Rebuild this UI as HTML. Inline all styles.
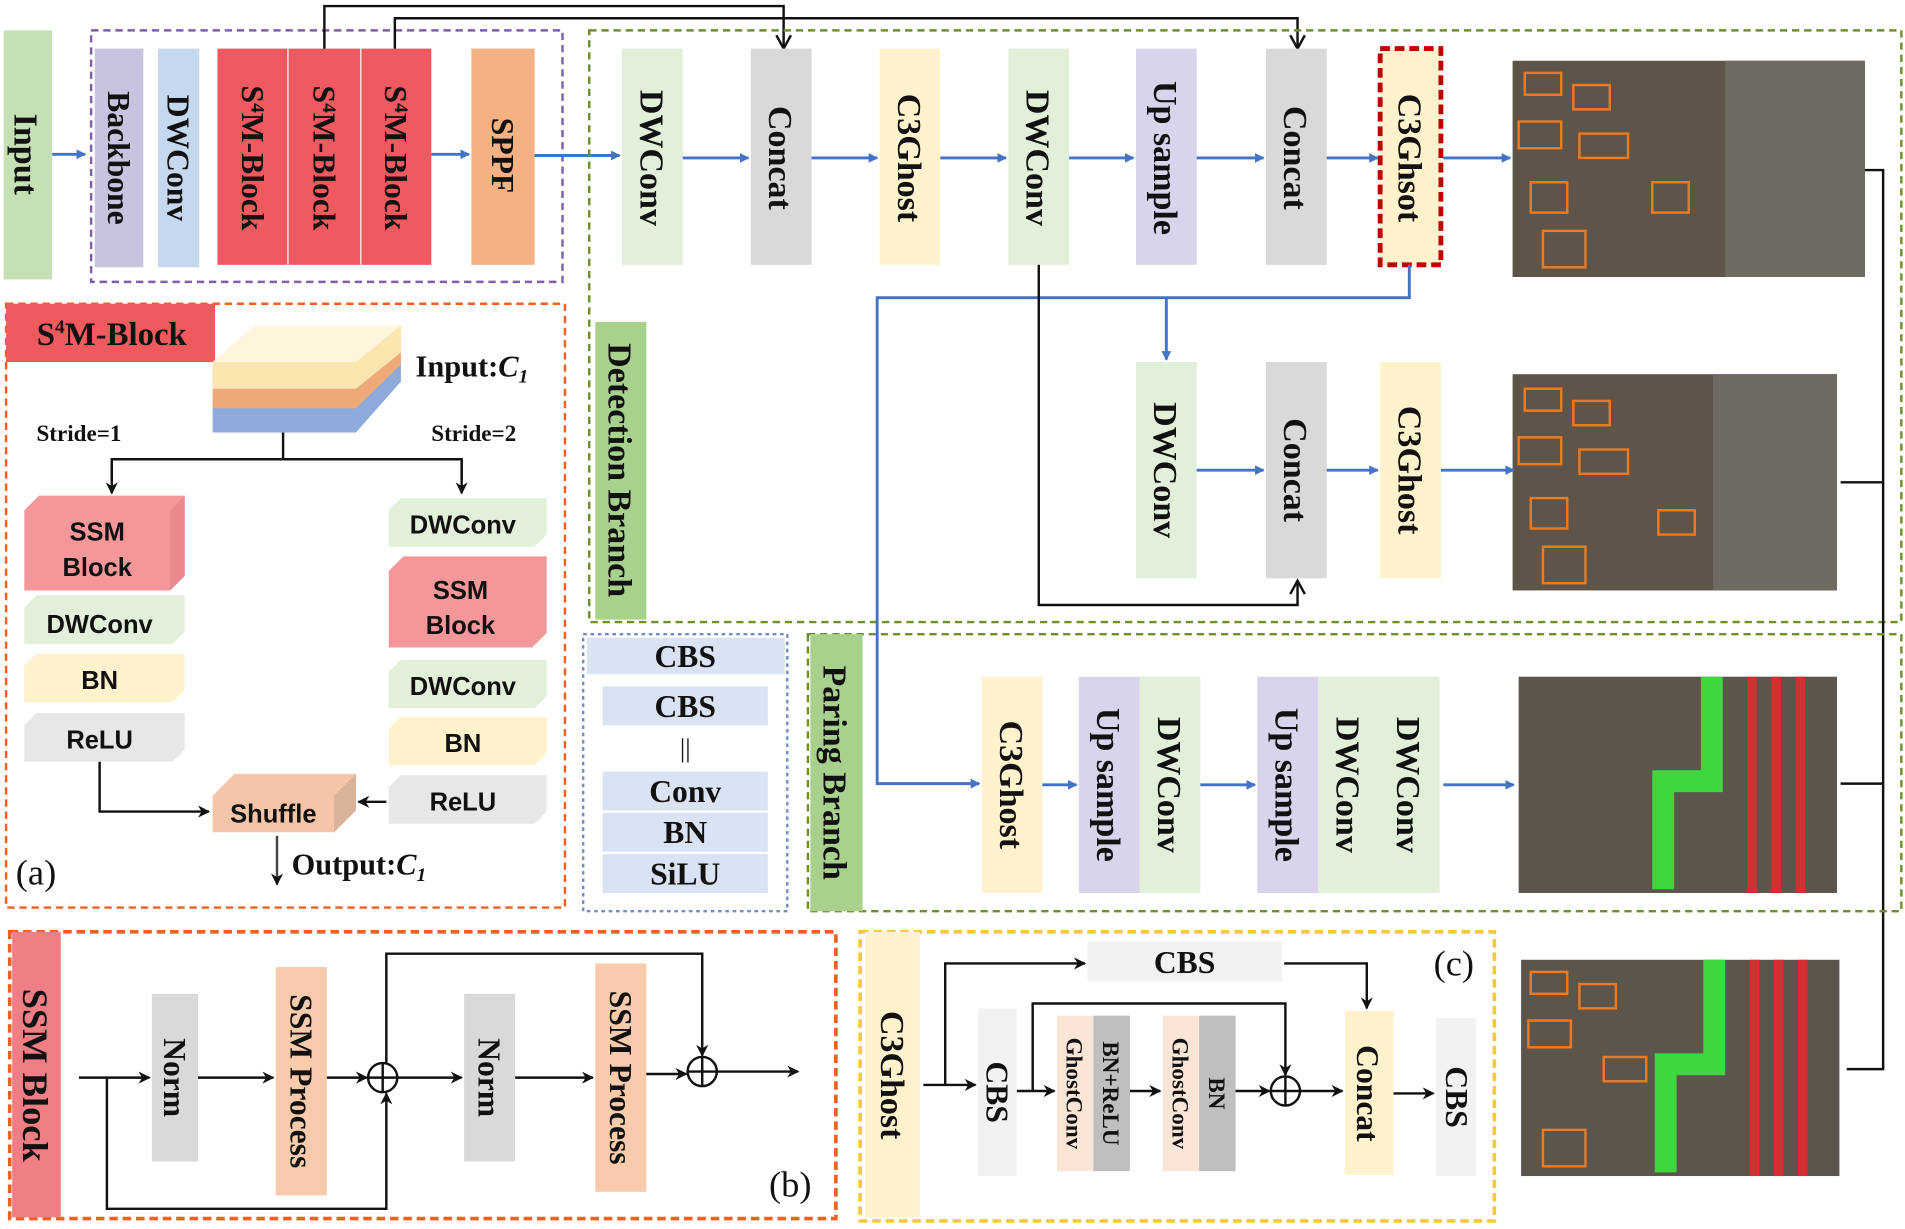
<!DOCTYPE html>
<html><head><meta charset="utf-8"><style>
html,body{margin:0;padding:0;background:#fff;width:1905px;height:1229px;overflow:hidden}
svg{display:block}
.s{font-family:"Liberation Serif",serif;font-weight:bold;fill:#111}
.n{font-family:"Liberation Serif",serif;font-weight:normal;fill:#111}
.a{font-family:"Liberation Sans",sans-serif;font-weight:bold;fill:#111}
</style></head><body>
<svg width="1905" height="1229" viewBox="0 0 1568 1011.6" preserveAspectRatio="none" xmlns="http://www.w3.org/2000/svg">
<defs>
<marker id="bl" markerWidth="8" markerHeight="8" refX="7" refY="4" orient="auto" markerUnits="userSpaceOnUse"><path d="M0,0 L8,4 L0,8 Z" fill="#4472c4"/></marker>
<marker id="bk" markerWidth="10" markerHeight="10" refX="9" refY="5" orient="auto" markerUnits="userSpaceOnUse"><path d="M0,0 L10,5 L0,10 L3,5 Z" fill="#111"/></marker>
<marker id="bo" markerWidth="14" markerHeight="14" refX="12" refY="7" orient="auto" markerUnits="userSpaceOnUse"><path d="M1,1 L12,7 L1,13" fill="none" stroke="#111" stroke-width="2"/></marker>
</defs>
<g>
<!-- top row -->
<rect x="3" y="25" width="40" height="205" fill="#c5e0b4"/>
<text class="s" font-size="28" transform="translate(12,127) rotate(90)" text-anchor="middle">Input</text>
<line x1="43" y1="127" x2="70" y2="127" stroke="#4472c4" stroke-width="2.4" marker-end="url(#bl)"/>
<rect x="75" y="25" width="388" height="207" fill="none" stroke="#7f5fa8" stroke-width="2" stroke-dasharray="6,4"/>
<rect x="78" y="40" width="40" height="180" fill="#c9c3e0"/>
<text class="s" font-size="26" transform="translate(89,130) rotate(90)" text-anchor="middle">Backbone</text>
<rect x="130" y="40" width="34" height="180" fill="#c5d8ee"/>
<text class="s" font-size="26" transform="translate(138,130) rotate(90)" text-anchor="middle">DWConv</text>
<rect x="179" y="40" width="176" height="178" fill="#ee5a5f"/>
<line x1="237" y1="40" x2="237" y2="218" stroke="#fff" stroke-width="1"/>
<line x1="297" y1="40" x2="297" y2="218" stroke="#fff" stroke-width="1"/>
<text class="s" font-size="26" transform="translate(199,130) rotate(90)" text-anchor="middle">S<tspan font-size="16" dy="-8">4</tspan><tspan dy="8">M-Block</tspan></text>
<text class="s" font-size="26" transform="translate(258,130) rotate(90)" text-anchor="middle">S<tspan font-size="16" dy="-8">4</tspan><tspan dy="8">M-Block</tspan></text>
<text class="s" font-size="26" transform="translate(317,130) rotate(90)" text-anchor="middle">S<tspan font-size="16" dy="-8">4</tspan><tspan dy="8">M-Block</tspan></text>
<line x1="355" y1="127" x2="386" y2="127" stroke="#4472c4" stroke-width="2.4" marker-end="url(#bl)"/>
<rect x="388" y="40" width="52" height="178" fill="#f4b183"/>
<text class="s" font-size="26" transform="translate(405,128) rotate(90)" text-anchor="middle">SPPF</text>
<line x1="440" y1="128" x2="510" y2="128" stroke="#4472c4" stroke-width="2.4" marker-end="url(#bl)"/>
<polyline points="267,40 267,5 645,5 645,40" fill="none" stroke="#111" stroke-width="2" marker-end="url(#bo)"/>
<polyline points="325,40 325,15 1068,15 1068,40" fill="none" stroke="#111" stroke-width="2" marker-end="url(#bo)"/>
<rect x="485" y="25" width="1080" height="487" fill="none" stroke="#6f8f2f" stroke-width="2" stroke-dasharray="6,4"/>
<rect x="512" y="40" width="50" height="178" fill="#e2f0d9"/>
<text class="s" font-size="28" transform="translate(527,130) rotate(90)" text-anchor="middle">DWConv</text>
<rect x="618" y="40" width="50" height="178" fill="#d9d9d9"/>
<text class="s" font-size="28" transform="translate(633,130) rotate(90)" text-anchor="middle">Concat</text>
<rect x="724" y="40" width="50" height="178" fill="#fff2cc"/>
<text class="s" font-size="28" transform="translate(739,130) rotate(90)" text-anchor="middle">C3Ghost</text>
<rect x="830" y="40" width="50" height="178" fill="#e2f0d9"/>
<text class="s" font-size="28" transform="translate(845,130) rotate(90)" text-anchor="middle">DWConv</text>
<rect x="935" y="40" width="50" height="178" fill="#d9d3ec"/>
<text class="s" font-size="28" transform="translate(950,130) rotate(90)" text-anchor="middle">Up sample</text>
<rect x="1042" y="40" width="50" height="178" fill="#d9d9d9"/>
<text class="s" font-size="28" transform="translate(1057,130) rotate(90)" text-anchor="middle">Concat</text>
<rect x="1136" y="40" width="50" height="178" fill="#fff2cc" stroke="#c00000" stroke-width="4" stroke-dasharray="8,4"/>
<text class="s" font-size="28" transform="translate(1151,130) rotate(90)" text-anchor="middle">C3Ghsot</text>
<g stroke="#4472c4" stroke-width="2.4" marker-end="url(#bl)">
<line x1="562" y1="130" x2="616" y2="130"/><line x1="668" y1="130" x2="722" y2="130"/>
<line x1="774" y1="130" x2="828" y2="130"/><line x1="880" y1="130" x2="933" y2="130"/>
<line x1="985" y1="130" x2="1040" y2="130"/><line x1="1092" y1="130" x2="1134" y2="130"/>
<line x1="1188" y1="130" x2="1243" y2="130"/>
</g>
<!-- images -->
<g>
<rect x="1245" y="50" width="290" height="178" fill="#5e5548"/>
<rect x="1420" y="50" width="115" height="178" fill="#6e6a62"/>
<rect x="1245" y="308" width="267" height="178" fill="#5e5548"/>
<rect x="1410" y="308" width="102" height="178" fill="#6e6a62"/>
<rect x="1250" y="557" width="262" height="178" fill="#5b554c"/>
<rect x="1252" y="790" width="262" height="178" fill="#5b554c"/>
<path d="M1400,557 h18 v95 h-40 v80 h-18 v-98 h40 z" fill="#3ed83e"/>
<path d="M1402,790 h18 v95 h-40 v80 h-18 v-98 h40 z" fill="#3ed83e"/>
<g fill="#d03030"><rect x="1438" y="557" width="8" height="178"/><rect x="1458" y="557" width="8" height="178"/><rect x="1478" y="557" width="8" height="178"/><rect x="1440" y="790" width="8" height="178"/><rect x="1460" y="790" width="8" height="178"/><rect x="1480" y="790" width="8" height="178"/></g>
<g fill="none" stroke="#f07a20" stroke-width="2">
<rect x="1255" y="60" width="30" height="18"/><rect x="1295" y="70" width="30" height="20"/><rect x="1250" y="100" width="35" height="22"/><rect x="1300" y="110" width="40" height="20"/><rect x="1260" y="150" width="30" height="25"/><rect x="1270" y="190" width="35" height="30"/><rect x="1360" y="150" width="30" height="25"/>
<rect x="1255" y="320" width="30" height="18"/><rect x="1295" y="330" width="30" height="20"/><rect x="1250" y="360" width="35" height="22"/><rect x="1300" y="370" width="40" height="20"/><rect x="1260" y="410" width="30" height="25"/><rect x="1270" y="450" width="35" height="30"/><rect x="1365" y="420" width="30" height="20"/>
<rect x="1260" y="800" width="30" height="18"/><rect x="1300" y="810" width="30" height="20"/><rect x="1258" y="840" width="35" height="22"/><rect x="1320" y="870" width="35" height="20"/><rect x="1270" y="930" width="35" height="30"/>
</g>
</g>
<polyline points="1535,140 1550,140 1550,880 1520,880" fill="none" stroke="#111" stroke-width="2"/>
<line x1="1515" y1="397" x2="1550" y2="397" stroke="#111" stroke-width="2"/>
<line x1="1515" y1="645" x2="1550" y2="645" stroke="#111" stroke-width="2"/>
<polyline points="1160,218 1160,245 722,245 722,645 806,645" fill="none" stroke="#4472c4" stroke-width="2.4" marker-end="url(#bl)"/>
<polyline points="960,245 960,296" fill="none" stroke="#4472c4" stroke-width="2.4" marker-end="url(#bl)"/>
<rect x="935" y="298" width="50" height="178" fill="#e2f0d9"/>
<text class="s" font-size="28" transform="translate(950,387) rotate(90)" text-anchor="middle">DWConv</text>
<rect x="1042" y="298" width="50" height="178" fill="#d9d9d9"/>
<text class="s" font-size="28" transform="translate(1057,387) rotate(90)" text-anchor="middle">Concat</text>
<rect x="1136" y="298" width="50" height="178" fill="#fff2cc"/>
<text class="s" font-size="28" transform="translate(1151,387) rotate(90)" text-anchor="middle">C3Ghost</text>
<g stroke="#4472c4" stroke-width="2.4" marker-end="url(#bl)">
<line x1="985" y1="387" x2="1040" y2="387"/><line x1="1092" y1="387" x2="1134" y2="387"/><line x1="1186" y1="387" x2="1246" y2="387"/>
</g>
<polyline points="855,218 855,498 1068,498 1068,478" fill="none" stroke="#111" stroke-width="2" marker-end="url(#bo)"/>
<rect x="490" y="265" width="42" height="245" fill="#a9d18e"/>
<text class="s" font-size="28" transform="translate(501,387) rotate(90)" text-anchor="middle">Detection Branch</text>
<rect x="665" y="522" width="900" height="228" fill="none" stroke="#6f8f2f" stroke-width="2" stroke-dasharray="6,4"/>
<rect x="667" y="522" width="43" height="228" fill="#a9d18e"/>
<text class="s" font-size="28" transform="translate(678,636) rotate(90)" text-anchor="middle">Paring Branch</text>
<rect x="808" y="557" width="50" height="178" fill="#fff2cc"/>
<text class="s" font-size="28" transform="translate(823,646) rotate(90)" text-anchor="middle">C3Ghost</text>
<rect x="888" y="557" width="50" height="178" fill="#d9d3ec"/>
<text class="s" font-size="28" transform="translate(903,646) rotate(90)" text-anchor="middle">Up sample</text>
<rect x="938" y="557" width="50" height="178" fill="#e2f0d9"/>
<text class="s" font-size="28" transform="translate(953,646) rotate(90)" text-anchor="middle">DWConv</text>
<rect x="1035" y="557" width="50" height="178" fill="#d9d3ec"/>
<text class="s" font-size="28" transform="translate(1050,646) rotate(90)" text-anchor="middle">Up sample</text>
<rect x="1085" y="557" width="100" height="178" fill="#e2f0d9"/>
<text class="s" font-size="28" transform="translate(1100,646) rotate(90)" text-anchor="middle">DWConv</text>
<text class="s" font-size="28" transform="translate(1150,646) rotate(90)" text-anchor="middle">DWConv</text>
<g stroke="#4472c4" stroke-width="2.4" marker-end="url(#bl)">
<line x1="858" y1="646" x2="886" y2="646"/><line x1="988" y1="646" x2="1033" y2="646"/><line x1="1188" y1="646" x2="1246" y2="646"/>
</g>
<rect x="480" y="522" width="168" height="228" fill="none" stroke="#6f8fc8" stroke-width="2" stroke-dasharray="3,3"/>
<rect x="483" y="525" width="163" height="30" fill="#dae3f3"/>
<text class="s" font-size="26" x="564" y="549" text-anchor="middle">CBS</text>
<rect x="496" y="565" width="136" height="32" fill="#dae3f3"/>
<text class="s" font-size="26" x="564" y="590" text-anchor="middle">CBS</text>
<text class="n" font-size="22" x="564" y="623" text-anchor="middle">||</text>
<rect x="496" y="635" width="136" height="32" fill="#dae3f3"/>
<text class="s" font-size="26" x="564" y="660" text-anchor="middle">Conv</text>
<rect x="496" y="669" width="136" height="32" fill="#dae3f3"/>
<text class="s" font-size="26" x="564" y="694" text-anchor="middle">BN</text>
<rect x="496" y="703" width="136" height="32" fill="#dae3f3"/>
<text class="s" font-size="26" x="564" y="728" text-anchor="middle">SiLU</text>
<!-- panel a -->
<rect x="5" y="250" width="460" height="497" fill="none" stroke="#f06020" stroke-width="2" stroke-dasharray="6,4"/>
<rect x="5" y="250" width="172" height="48" fill="#ef5a5f"/>
<text class="s" font-size="27" x="92" y="284" text-anchor="middle">S<tspan font-size="16" dy="-10">4</tspan><tspan dy="10">M-Block</tspan></text>
<polygon points="175,330 293,330 330,298 330,314 293,356 175,356" fill="#8eaadb"/>
<polygon points="175,305 293,305 330,275 330,300 293,336 175,336" fill="#eea978"/>
<polygon points="175,298 210,268 330,268 330,290 293,320 175,320" fill="#fbe6b0"/>
<polygon points="175,298 210,268 330,268 293,298" fill="#fff4dc"/>
<text class="s" font-size="25" x="342" y="310">Input:<tspan font-style="italic">C<tspan font-size="16" dy="5">1</tspan></tspan></text>
<text class="s" font-size="19" x="30" y="363">Stride=1</text>
<text class="s" font-size="19" x="355" y="363">Stride=2</text>
<polyline points="233,356 233,378" fill="none" stroke="#111" stroke-width="2"/>
<polyline points="92,395 92,378 380,378 380,395" fill="none" stroke="#111" stroke-width="2"/>
<polyline points="92,380 92,406" stroke="#111" stroke-width="2" marker-end="url(#bk)"/>
<polyline points="380,380 380,406" stroke="#111" stroke-width="2" marker-end="url(#bk)"/>
<g>
<polygon points="20,420 32,408 152,408 152,474 140,486 20,486" fill="#f4979b"/><polygon points="140,420 152,408 152,474 140,486" fill="#e8898e"/>
<text class="a" font-size="21" x="80" y="445" text-anchor="middle">SSM</text><text class="a" font-size="21" x="80" y="474" text-anchor="middle">Block</text>
<polygon points="20,500 30,490 152,490 152,520 142,530 20,530" fill="#e2f0d9"/>
<text class="a" font-size="21" x="82" y="521" text-anchor="middle">DWConv</text>
<polygon points="20,548 30,538 152,538 152,568 142,578 20,578" fill="#fff2cc"/>
<text class="a" font-size="21" x="82" y="567" text-anchor="middle">BN</text>
<polygon points="20,597 30,587 152,587 152,617 142,627 20,627" fill="#e7e7e7"/>
<text class="a" font-size="21" x="82" y="616" text-anchor="middle">ReLU</text>
<polygon points="320,420 330,410 450,410 450,440 440,450 320,450" fill="#e2f0d9"/>
<text class="a" font-size="21" x="381" y="439" text-anchor="middle">DWConv</text>
<polygon points="320,470 332,458 450,458 450,521 438,533 320,533" fill="#f4979b"/>
<text class="a" font-size="21" x="379" y="493" text-anchor="middle">SSM</text><text class="a" font-size="21" x="379" y="522" text-anchor="middle">Block</text>
<polygon points="320,553 330,543 450,543 450,573 440,583 320,583" fill="#e2f0d9"/>
<text class="a" font-size="21" x="381" y="572" text-anchor="middle">DWConv</text>
<polygon points="320,600 330,590 450,590 450,620 440,630 320,630" fill="#fff2cc"/>
<text class="a" font-size="21" x="381" y="619" text-anchor="middle">BN</text>
<polygon points="320,648 330,638 450,638 450,668 440,678 320,678" fill="#e7e7e7"/>
<text class="a" font-size="21" x="381" y="667" text-anchor="middle">ReLU</text>
<polygon points="175,655 193,637 293,637 293,667 275,685 175,685" fill="#f4c5a6"/><polygon points="275,655 293,637 293,667 275,685" fill="#d9b29a"/>
<text class="a" font-size="21" x="225" y="677" text-anchor="middle">Shuffle</text>
</g>
<polyline points="82,627 82,668 172,668" fill="none" stroke="#111" stroke-width="2" marker-end="url(#bk)"/>
<line x1="318" y1="660" x2="295" y2="660" stroke="#111" stroke-width="2" marker-end="url(#bk)"/>
<line x1="228" y1="688" x2="228" y2="728" stroke="#444" stroke-width="2" marker-end="url(#bk)"/>
<text class="s" font-size="25" x="240" y="720">Output:<tspan font-style="italic">C<tspan font-size="16" dy="5">1</tspan></tspan></text>
<text class="n" font-size="30" x="13" y="728">(a)</text>
<!-- panel b -->
<rect x="8" y="767" width="680" height="236" fill="none" stroke="#f06020" stroke-width="3" stroke-dasharray="7,4"/>
<rect x="10" y="767" width="40" height="235" fill="#ef7f85"/>
<text class="s" font-size="30" transform="translate(19,885) rotate(90)" text-anchor="middle">SSM Block</text>
<rect x="125" y="818" width="38" height="138" fill="#d9d9d9"/>
<text class="s" font-size="26" transform="translate(135,887) rotate(90)" text-anchor="middle">Norm</text>
<rect x="227" y="796" width="42" height="188" fill="#f8cbad"/>
<text class="s" font-size="26" transform="translate(239,890) rotate(90)" text-anchor="middle">SSM Process</text>
<rect x="382" y="818" width="42" height="138" fill="#d9d9d9"/>
<text class="s" font-size="26" transform="translate(394,887) rotate(90)" text-anchor="middle">Norm</text>
<rect x="490" y="793" width="42" height="188" fill="#f8cbad"/>
<text class="s" font-size="26" transform="translate(502,887) rotate(90)" text-anchor="middle">SSM Process</text>
<g fill="none" stroke="#111" stroke-width="2">
<circle cx="315" cy="887" r="12"/><line x1="303" y1="887" x2="327" y2="887"/><line x1="315" y1="875" x2="315" y2="899"/>
<circle cx="578" cy="882" r="12"/><line x1="566" y1="882" x2="590" y2="882"/><line x1="578" y1="870" x2="578" y2="894"/>
<line x1="65" y1="887" x2="123" y2="887" marker-end="url(#bk)"/>
<line x1="163" y1="887" x2="225" y2="887" marker-end="url(#bk)"/>
<line x1="269" y1="887" x2="302" y2="887" marker-end="url(#bk)"/>
<line x1="327" y1="887" x2="380" y2="887" marker-end="url(#bk)"/>
<line x1="424" y1="887" x2="488" y2="887" marker-end="url(#bk)"/>
<line x1="532" y1="884" x2="565" y2="884" marker-end="url(#bk)"/>
<line x1="590" y1="882" x2="657" y2="882" marker-end="url(#bk)"/>
<polyline points="88,887 88,995 318,995 318,900" marker-end="url(#bk)"/>
<polyline points="318,875 318,785 578,785 578,869" marker-end="url(#bk)"/>
</g>
<text class="n" font-size="30" x="633" y="985">(b)</text>
<!-- panel c -->
<rect x="708" y="767" width="522" height="238" fill="none" stroke="#f5c842" stroke-width="3" stroke-dasharray="7,4"/>
<rect x="712" y="767" width="45" height="235" fill="#fff2cc"/>
<text class="s" font-size="28" transform="translate(725,885) rotate(90)" text-anchor="middle">C3Ghost</text>
<rect x="805" y="830" width="32" height="138" fill="#f2f2f2"/>
<text class="s" font-size="26" transform="translate(812,899) rotate(90)" text-anchor="middle">CBS</text>
<rect x="895" y="775" width="160" height="33" fill="#f2f2f2"/>
<text class="s" font-size="26" x="975" y="801" text-anchor="middle">CBS</text>
<rect x="870" y="836" width="30" height="128" fill="#fbe5d6"/>
<text class="s" font-size="19" transform="translate(878,900) rotate(90)" text-anchor="middle">GhostConv</text>
<rect x="900" y="836" width="30" height="128" fill="#bfbfbf"/>
<text class="s" font-size="19" transform="translate(908,900) rotate(90)" text-anchor="middle">BN+ReLU</text>
<rect x="957" y="836" width="30" height="128" fill="#fbe5d6"/>
<text class="s" font-size="19" transform="translate(965,900) rotate(90)" text-anchor="middle">GhostConv</text>
<rect x="987" y="836" width="30" height="128" fill="#bfbfbf"/>
<text class="s" font-size="19" transform="translate(995,900) rotate(90)" text-anchor="middle">BN</text>
<rect x="1107" y="832" width="40" height="135" fill="#fff2cc"/>
<text class="s" font-size="26" transform="translate(1117,900) rotate(90)" text-anchor="middle">Concat</text>
<rect x="1182" y="838" width="33" height="130" fill="#f2f2f2"/>
<text class="s" font-size="26" transform="translate(1190,903) rotate(90)" text-anchor="middle">CBS</text>
<g fill="none" stroke="#111" stroke-width="2">
<line x1="760" y1="893" x2="803" y2="893" marker-end="url(#bk)"/>
<polyline points="778,893 778,793 893,793" marker-end="url(#bk)"/>
<polyline points="1057,793 1125,793 1125,830" marker-end="url(#bk)"/>
<line x1="837" y1="898" x2="868" y2="898" marker-end="url(#bk)"/>
<polyline points="850,898 850,826 1058,826 1058,885" marker-end="url(#bk)"/>
<line x1="930" y1="898" x2="955" y2="898" marker-end="url(#bk)"/>
<line x1="1017" y1="898" x2="1045" y2="898" marker-end="url(#bk)"/>
<circle cx="1058" cy="898" r="12"/><line x1="1046" y1="898" x2="1070" y2="898"/><line x1="1058" y1="886" x2="1058" y2="910"/>
<line x1="1070" y1="898" x2="1105" y2="898" marker-end="url(#bk)"/>
<line x1="1147" y1="900" x2="1180" y2="900" marker-end="url(#bk)"/>
</g>
<text class="n" font-size="30" x="1180" y="803">(c)</text>
</g>
</svg>
</body></html>
